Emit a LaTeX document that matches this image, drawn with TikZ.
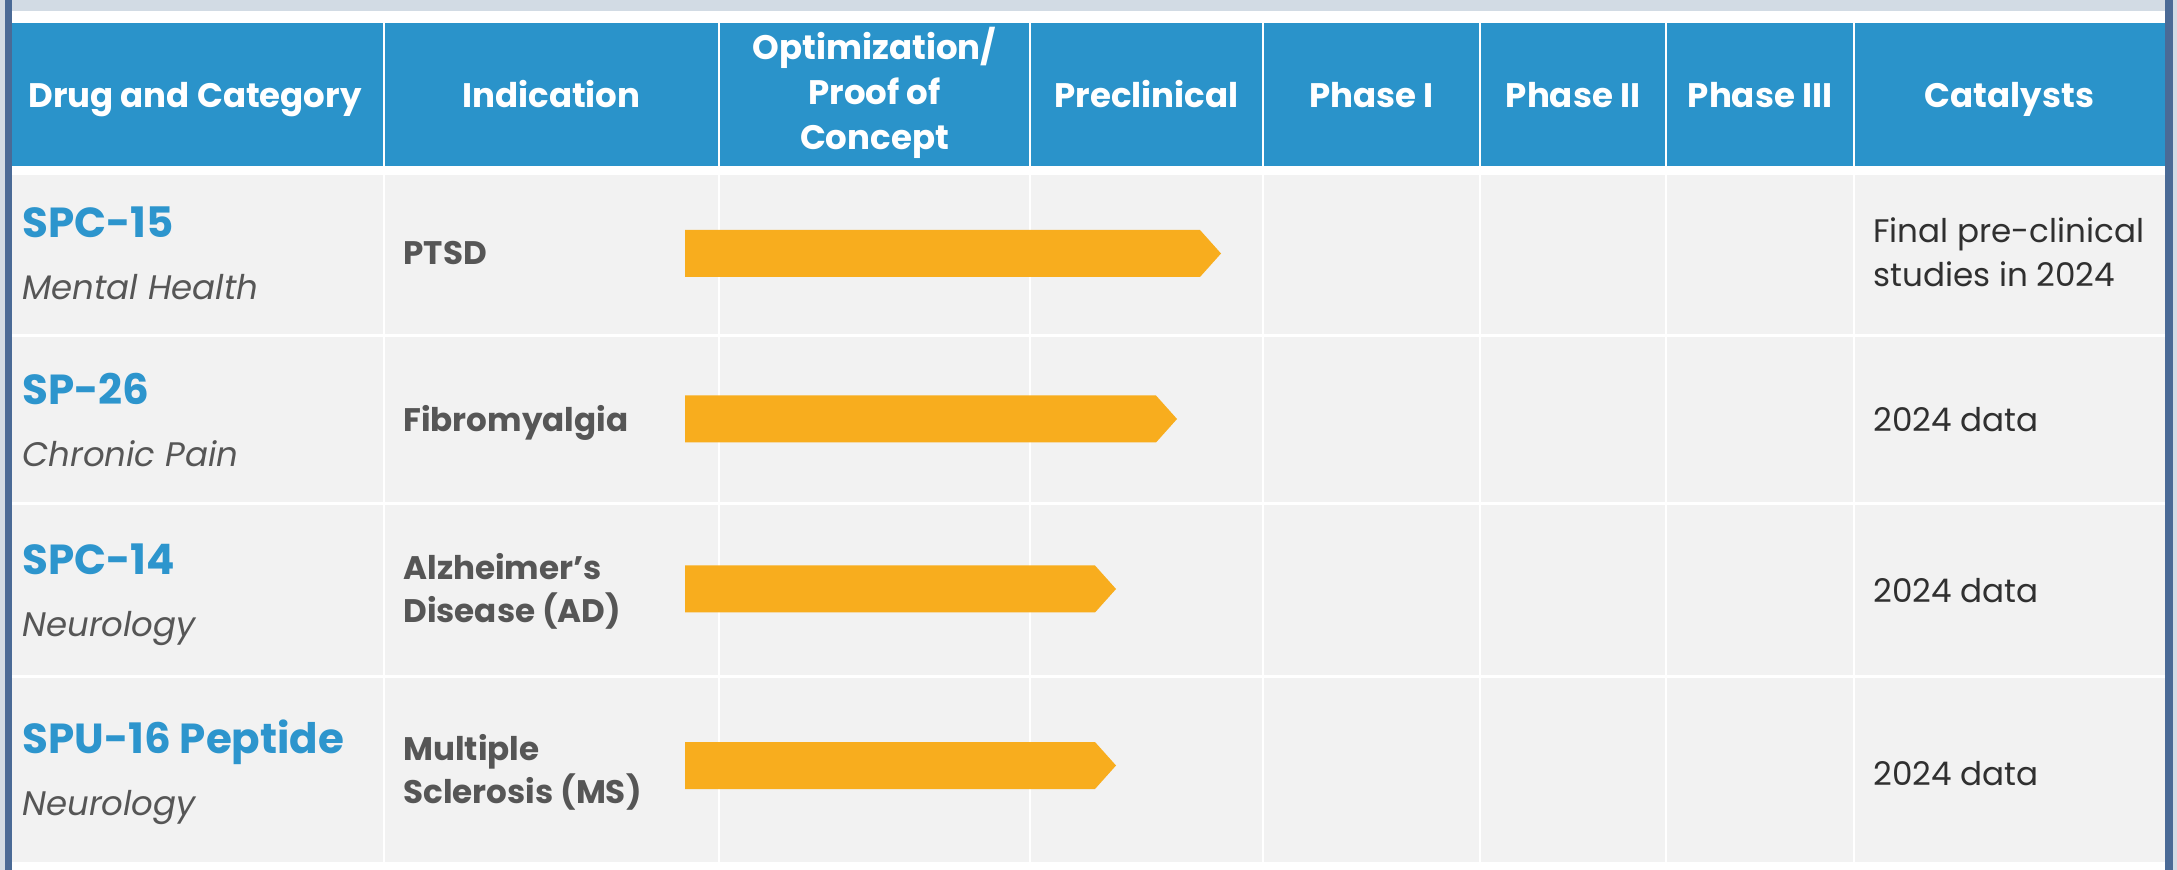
\documentclass[tikz,border=0pt]{standalone}
\usepackage{fontspec}
\setmainfont{Poppins}
\usetikzlibrary{positioning}
\definecolor{headblue}{HTML}{2A93CA}
\definecolor{drugblue}{HTML}{2D95CD}
\definecolor{cellgray}{HTML}{F2F2F2}
\definecolor{textgray}{HTML}{565656}
\definecolor{catalgray}{HTML}{303030}
\definecolor{barorange}{HTML}{F8AD1E}
\definecolor{framebar}{HTML}{4A6A96}
\definecolor{topstrip}{HTML}{D2DBE4}

\begin{document}
\begin{tikzpicture}[x=0.5pt, y=-0.5pt,
  head/.style={font=\bfseries\fontsize{17}{22.5}\selectfont, text=white, align=center, inner sep=0pt},
  drug/.style={font=\bfseries\fontsize{21}{25}\selectfont, text=drugblue, anchor=base west, inner sep=0pt},
  categ/.style={font=\itshape\fontsize{17}{20}\selectfont, text=textgray, anchor=base west, inner sep=0pt},
  indic/.style={font=\bfseries\fontsize{16.3}{21.5}\selectfont, text=textgray, align=left, anchor=base west, inner sep=0pt},
  catal/.style={font=\fontsize{16.3}{22}\selectfont, text=catalgray, align=left, anchor=base west, inner sep=0pt},
  bar/.style={fill=barorange},
  rule/.style={draw=white, line width=1pt}]
  \useasboundingbox (0,0) rectangle (2177,870);
  % frame
  \fill[white] (0,0) rectangle (2177,870);
  \fill[topstrip] (0,0) rectangle (2177,11);
  \fill[topstrip] (0,0) rectangle (5,870);
  \fill[topstrip] (2173,0) rectangle (2177,870);
  \fill[framebar] (5,0) rectangle (12,870);
  \fill[framebar] (2165,0) rectangle (2173,870);
  % header and body
  \fill[headblue] (12,23) rectangle (2165,166);
  \fill[cellgray] (12,175) rectangle (2165,862);
  \foreach \x in {384,719,1030,1263,1480,1666,1854}
    \draw[rule] (\x,23) -- (\x,166) (\x,175) -- (\x,862);
  \foreach \y in {336,504,676}
    \draw[rule, line width=1.5pt] (12,\y) -- (2165,\y);
  % header labels
  \foreach \x/\t [count=\i] in {195/Drug and Category, 551.5/Indication,
      1146.5/Preclinical, 1371.5/Phase I, 1573/Phase II, 1760/Phase III,
      2009.5/Catalysts}
    \node[head, anchor=base] (h\i) at (\x,108) {\t};
  \node[head, anchor=base] (hopt) at (874.5,150) {Optimization/\\Proof of\\Concept};
  % progress bars
  \foreach \y/\e [count=\i] in {253.5/1200, 419/1156, 589/1095, 765.5/1095}
    \fill[bar] (685,{\y-23.5}) -- (\e,{\y-23.5}) -- ({\e+21},\y)
      -- (\e,{\y+23.5}) -- (685,{\y+23.5}) -- cycle;
  % rows
  \node[drug] (d1) at (22,238) {SPC-15};
  \node[categ] (c1) at (22,300) {Mental Health};
  \node[indic] (i1) at (403,265) {PTSD};
  \node[catal] (k1) at (1873,287) {Final pre-clinical\\studies in 2024};

  \node[drug] (d2) at (22,405) {SP-26};
  \node[categ] (c2) at (22,467) {Chronic Pain};
  \node[indic] (i2) at (403,432) {Fibromyalgia};
  \node[catal] (k2) at (1873,432) {2024 data};

  \node[drug] (d3) at (22,575) {SPC-14};
  \node[categ] (c3) at (22,637) {Neurology};
  \node[indic] (i3) at (403,623) {Alzheimer’s\\Disease (AD)};
  \node[catal] (k3) at (1873,603) {2024 data};

  \node[drug] (d4) at (22,753) {SPU-16 Peptide};
  \node[categ] (c4) at (22,815) {Neurology};
  \node[indic] (i4) at (403,803) {Multiple\\Sclerosis (MS)};
  \node[catal] (k4) at (1873,785) {2024 data};
\end{tikzpicture}
\end{document}
